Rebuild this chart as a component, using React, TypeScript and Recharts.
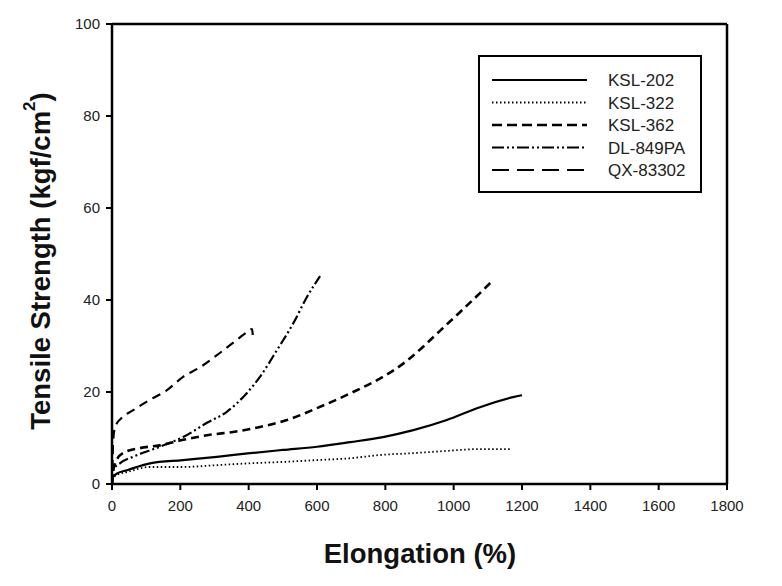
import React from 'react';
import { LineChart, Line, XAxis, YAxis, Legend, ReferenceLine } from 'recharts';

const xTicks = [0, 200, 400, 600, 800, 1000, 1200, 1400, 1600, 1800];
const yTicks = [0, 20, 40, 60, 80, 100];

const ksl202X = [0, 3, 15, 44, 111, 208, 307, 404, 500, 600, 697, 793, 882, 980, 1077, 1174, 1200];
const ksl202Y = [0, 1.5, 2.3, 3.0, 4.5, 5.2, 5.9, 6.7, 7.4, 8.1, 9.1, 10.2, 11.7, 13.9, 16.7, 18.9, 19.3];

const ksl322X = [0, 3, 15, 44, 111, 208, 307, 404, 500, 600, 697, 784, 882, 980, 1077, 1165];
const ksl322Y = [0, 1.3, 2.0, 2.6, 3.7, 3.7, 4.1, 4.5, 4.8, 5.2, 5.6, 6.3, 6.7, 7.2, 7.6, 7.6];

const ksl362X = [0, 3, 9, 32, 82, 140, 208, 287, 354, 433, 512, 600, 700, 800, 860, 910, 960, 1019, 1077, 1115];
const ksl362Y = [0, 2.5, 4.5, 6.7, 7.8, 8.4, 9.6, 10.7, 11.3, 12.4, 13.9, 16.5, 19.8, 23.6, 26.6, 29.8, 33.3, 37.4, 41.5, 44.3];

const dl849X = [0, 3, 23, 61, 140, 208, 278, 336, 395, 433, 482, 531, 571, 609];
const dl849Y = [0, 3.0, 4.5, 5.9, 8.1, 10.2, 13.3, 15.7, 19.8, 23.3, 29.0, 35.0, 40.7, 45.2];

const qxX = [0, 1, 2, 3, 9, 32, 61, 111, 161, 208, 258, 307, 354, 395, 410, 412];
const qxY = [0, 3, 6, 8.9, 12.4, 14.6, 16.0, 18.3, 20.4, 23.3, 25.4, 28.0, 30.7, 33.0, 33.7, 32.4];

const seriesNames = ['KSL-202', 'KSL-322', 'KSL-362', 'DL-849PA', 'QX-83302'];
const seriesX = [ksl202X, ksl322X, ksl362X, dl849X, qxX];
const seriesY = [ksl202Y, ksl322Y, ksl362Y, dl849Y, qxY];
const dashes = ['', '1.5 2.5', '10 5', '12 3 2 3 2 3', '17 8'];
const lineDashes = ['', '1.5 2.5', '8 5', '10 3 2 3 2 3', '9 6'];
const widths = [2.2, 1.8, 2.6, 2.2, 2.2];

const build = (xs: number[], ys: number[]) => xs.map((x, i) => ({ x, y: ys[i] }));

const FONT = '"Liberation Sans", Arial, sans-serif';

const LegendBox = () => (
  <div
    style={{
      width: 220,
      height: 134,
      border: '2px solid #000',
      background: '#fff',
      boxSizing: 'content-box',
      fontFamily: FONT,
      position: 'relative',
    }}
  >
    <svg width={220} height={134} style={{ position: 'absolute', left: 0, top: 0 }}>
      {seriesNames.map((n, i) => (
        <g key={n}>
          <line
            x1={12}
            x2={107}
            y1={23 + i * 22.5}
            y2={23 + i * 22.5}
            stroke="#000"
            strokeWidth={widths[i]}
            strokeDasharray={dashes[i] || undefined}
          />
          <text x={128} y={29 + i * 22.5} fontSize={17} fill="#222" fontFamily={FONT}>
            {n}
          </text>
        </g>
      ))}
    </svg>
  </div>
);

const YTitle = () => {
  const cx = 40;
  const cy = 261;
  return (
    <text
      x={cx}
      y={cy}
      transform={`rotate(-90 ${cx} ${cy})`}
      textAnchor="middle"
      fontSize={27.5}
      fontWeight="bold"
      fill="#111"
      fontFamily={FONT}
      dominantBaseline="central"
    >
      Tensile Strength (kgf/cm
      <tspan fontSize={17} dy={-11}>2</tspan>
      <tspan dy={11}>)</tspan>
    </text>
  );
};

const XTitle = () => (
  <text
    x={420}
    y={553}
    textAnchor="middle"
    dominantBaseline="central"
    fontSize={27.5}
    fontWeight="bold"
    fill="#111"
    fontFamily={FONT}
  >
    Elongation (%)
  </text>
);

export default function App() {
  return (
    <div style={{ position: 'absolute', left: 0, top: 0, background: '#fff' }}>
      <LineChart
        width={782}
        height={586}
        margin={{ top: 24, right: 55, bottom: 42, left: 0 }}
      >
        <XAxis
          dataKey="x"
          type="number"
          xAxisId="b"
          domain={[0, 1800]}
          ticks={xTicks}
          allowDataOverflow
          height={60}
          tickSize={6}
          tickMargin={10}
          tick={{ fontSize: 15, fill: '#222', fontFamily: FONT }}
          axisLine={{ stroke: '#000', strokeWidth: 2.5 }}
          tickLine={{ stroke: '#000', strokeWidth: 2 }}
          label={<XTitle />}
        />
        <YAxis
          type="number"
          yAxisId="l"
          domain={[0, 100]}
          ticks={yTicks}
          allowDataOverflow
          width={112}
          tickSize={6}
          tickMargin={6}
          tick={{ fontSize: 15, fill: '#222', fontFamily: FONT }}
          axisLine={{ stroke: '#000', strokeWidth: 2.5 }}
          tickLine={{ stroke: '#000', strokeWidth: 2 }}
          label={<YTitle />}
        />
        <ReferenceLine xAxisId="b" yAxisId="l" y={100} stroke="#000" strokeWidth={2.5} />
        <ReferenceLine xAxisId="b" yAxisId="l" x={1800} stroke="#000" strokeWidth={2.5} />
        <Legend
          layout="vertical"
          align="center"
          verticalAlign="middle"
          content={<LegendBox />}
          wrapperStyle={{ left: 478, top: 55, width: 224, height: 138 }}
        />
        {seriesNames.map((n, i) => (
          <Line
            key={n}
            name={n}
            xAxisId="b"
            yAxisId="l"
            data={build(seriesX[i], seriesY[i])}
            dataKey="y"
            type="monotone"
            stroke="#000"
            strokeWidth={widths[i]}
            strokeDasharray={lineDashes[i] || undefined}
            dot={false}
            activeDot={false}
            isAnimationActive={false}
          />
        ))}
      </LineChart>
    </div>
  );
}
